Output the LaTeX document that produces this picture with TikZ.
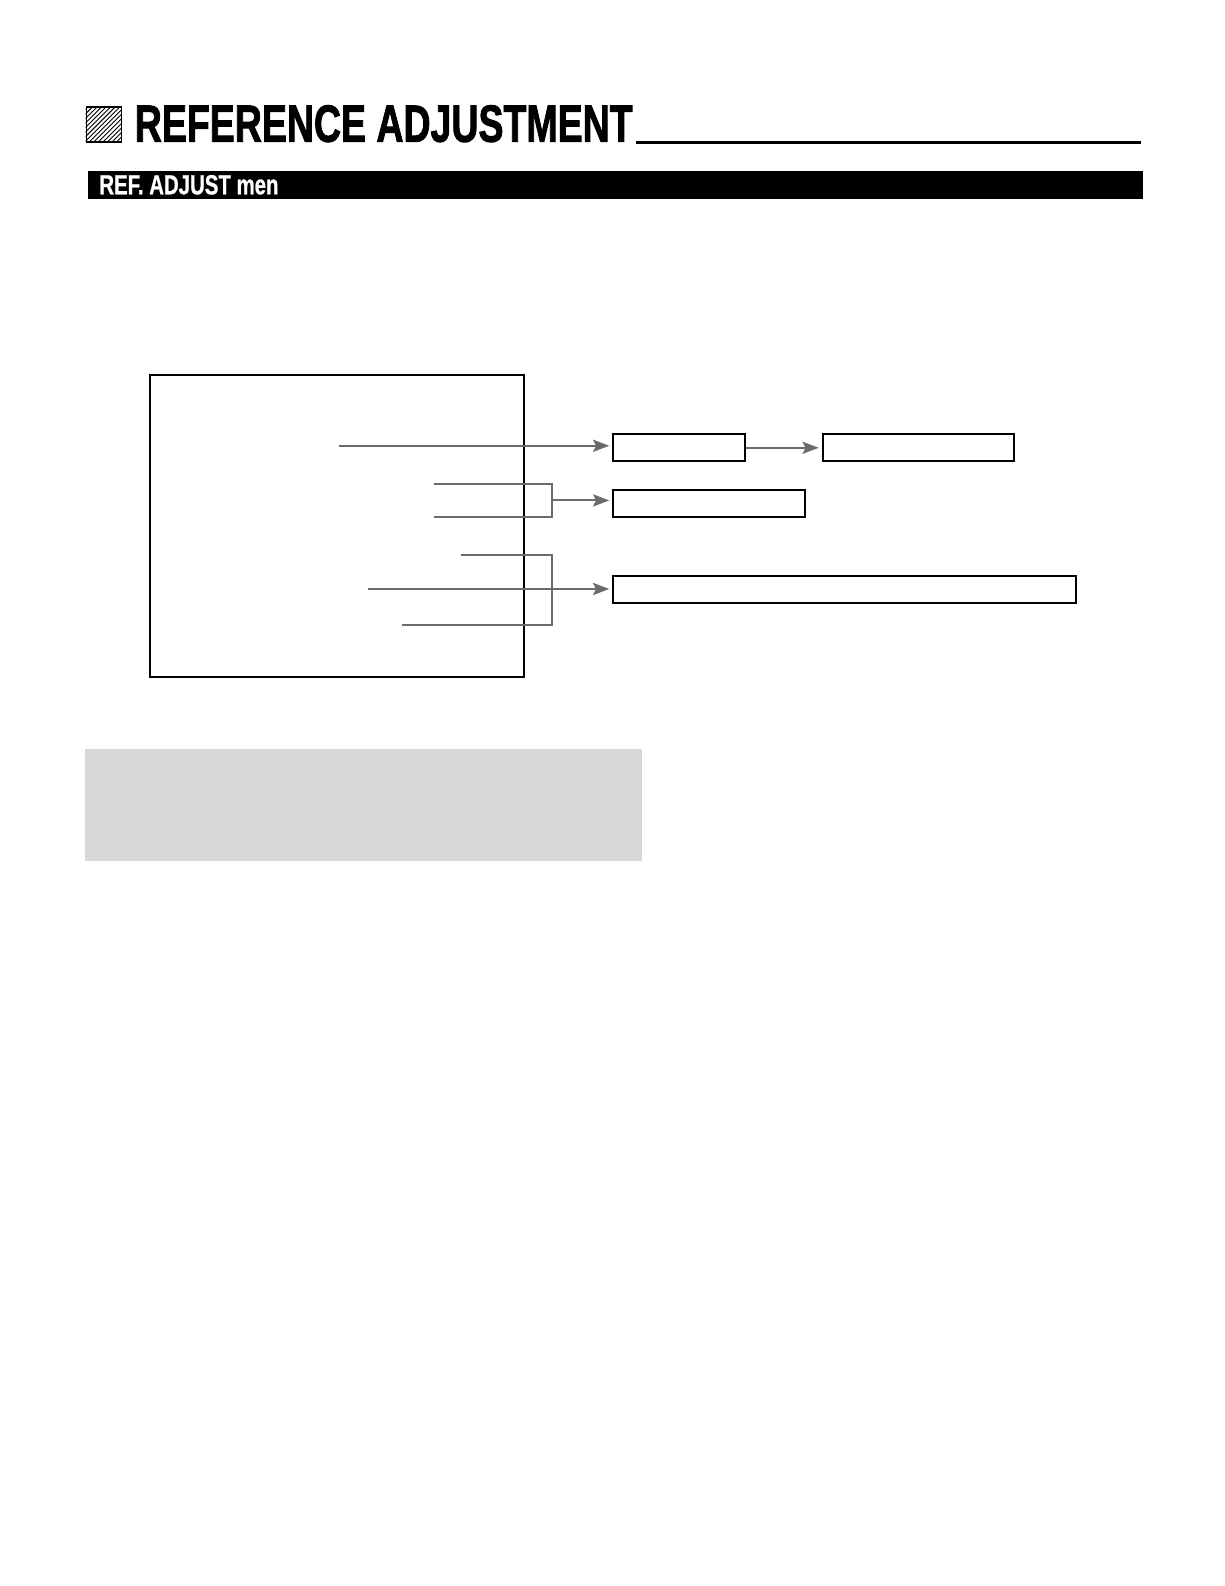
\documentclass[tikz,border=0pt]{standalone}
\usepackage{fontspec}
\setmainfont{Liberation Sans}
\newfontfamily\titlefont{Liberation Sans}[BoldFeatures={FakeBold=2}]
\newfontfamily\subfont{Liberation Sans}[BoldFeatures={FakeBold=1}]
\usetikzlibrary{arrows.meta}
\definecolor{conncol}{HTML}{6B6B6B}
\definecolor{panelgray}{HTML}{D8D8D8}
\begin{document}
\begin{tikzpicture}[x=1pt,y=-1pt,
  boxstyle/.style={draw=black, line width=2pt, inner sep=0pt, anchor=north west},
  conn/.style={draw=conncol, line width=2pt},
  connarrow/.style={conn, -{Stealth[length=16pt,width=12pt,inset=3pt]}, shorten >=3pt},
  titletext/.style={inner sep=0pt, anchor=base west}]
\useasboundingbox (0,0) rectangle (1209.5,1567.2);
% hatched square
\begin{scope}
  \clip (84.5,105) rectangle (119.5,139.5);
  \foreach \k in {-36,-31.5,...,36} {
    \draw[line width=0.9pt] (84+\k,140) -- (84+\k+36,104);
  }
\end{scope}
\node[draw=black, line width=1.4pt, minimum width=35pt, minimum height=34.5pt, inner sep=0pt, anchor=north west] (hatch) at (84.5,105) {};
% title
\node[titletext] (title) at (133,140) {\resizebox{492pt}{36pt}{\titlefont\bfseries REFERENCE ADJUSTMENT}};
\coordinate (ulA) at (628,140.5);
\coordinate (ulB) at (1127,140.5);
\draw[line width=3pt] (ulA) -- (ulB);
% black bar
\node[fill=black, minimum width=1042pt, minimum height=27pt, inner sep=0pt, anchor=north west] (bar) at (87,169) {};
\node[titletext, text=white] (subtitle) at (98,192) {\resizebox{177pt}{19pt}{\subfont\bfseries REF. ADJUST men}};
% main box
\node[boxstyle, minimum width=370pt, minimum height=298pt] (main) at (147,370) {};
% right boxes
\node[boxstyle, minimum width=130pt, minimum height=27pt] (b1) at (605,428) {};
\node[boxstyle, minimum width=189pt, minimum height=27pt] (b2) at (812,428) {};
\node[boxstyle, minimum width=189pt, minimum height=27pt] (b3) at (605,483) {};
\node[boxstyle, minimum width=457pt, minimum height=27pt] (b4) at (605,568) {};
% connectors
\coordinate (s1) at (335,440.5);
\draw[connarrow] (s1) -- (s1 -| b1.west);
\draw[connarrow] (b1.east) -- (b2.west);
\coordinate (s2a) at (429,478);
\coordinate (s2b) at (429,511);
\coordinate (j2) at (545,494.5);
\draw[conn] (s2a) -- (s2a -| j2) -- (s2b -| j2) -- (s2b);
\draw[connarrow] (j2) -- (j2 -| b3.west);
\coordinate (s3a) at (456,548);
\coordinate (s3c) at (397,618);
\coordinate (s3b) at (364,582);
\coordinate (j3) at (545,582);
\draw[conn] (s3a) -- (s3a -| j3) -- (s3c -| j3) -- (s3c);
\draw[connarrow] (s3b) -- (s3b -| b4.west);
% gray panel
\node[fill=panelgray, minimum width=550pt, minimum height=111pt, inner sep=0pt, anchor=north west] (panel) at (84,740) {};
\end{tikzpicture}
\end{document}
